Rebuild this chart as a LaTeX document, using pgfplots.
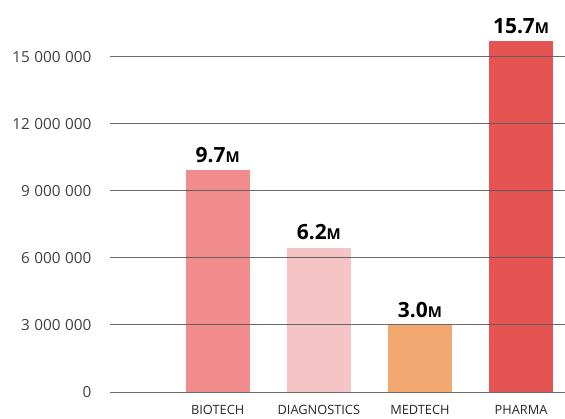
\documentclass[border=0pt]{standalone}
\usepackage{fontspec}
\setmainfont{Open Sans}
\usepackage{pgfplots}
\pgfplotsset{compat=1.18}
\definecolor{cBio}{HTML}{F08C8C}
\definecolor{cDia}{HTML}{F5C4C4}
\definecolor{cMed}{HTML}{F2A86E}
\definecolor{cPha}{HTML}{E65353}
\definecolor{gridc}{HTML}{5A5A5A}
\newcommand{\smM}{{\fontsize{15pt}{15pt}\selectfont M}}
\begin{document}
\begin{tikzpicture}
\begin{axis}[
  scale only axis, width=455pt, height=391.4pt,
  xmin=-0.066, xmax=4.43, ymin=0, ymax=17500000,
  axis line style={draw=none}, major tick length=0pt,
  axis on top,
  ymajorgrids, grid style={gridc, line width=0.9pt, opacity=0.9},
  ytick={0,3000000,6000000,9000000,12000000,15000000},
  scaled y ticks=false,
  /pgf/number format/fixed,
  /pgf/number format/1000 sep={\hspace{0.3em}},
  /pgf/number format/assume math mode=true,
  yticklabel style={font=\fontsize{15.3pt}{15.3pt}\selectfont, text=black!75, xshift=-15pt},
  xtick={1,2,3,4}, xticklabels={BIOTECH,DIAGNOSTICS,MEDTECH,PHARMA},
  xticklabel style={font=\fontsize{12.8pt}{12.8pt}\selectfont, text=black!85, yshift=-10pt},
  ybar, bar width=64pt, bar shift=0pt,
  nodes near coords={\pgfplotspointmeta\smM}, point meta=explicit symbolic,
  nodes near coords style={font=\fontsize{21pt}{21pt}\selectfont\bfseries, text=black, yshift=4pt},
]
\addplot[draw=none, fill=cBio] coordinates {(1,9940000) [9.7]};
\addplot[draw=none, fill=cDia] coordinates {(2,6460000) [6.2]};
\addplot[draw=none, fill=cMed] coordinates {(3,3000000) [3.0]};
\addplot[draw=none, fill=cPha] coordinates {(4,15700000) [15.7]};
\end{axis}
\path[use as bounding box] ([xshift=-110pt,yshift=-24.7pt]current axis.south west) rectangle ([yshift=0.9pt]current axis.north east);
\end{tikzpicture}
\end{document}
